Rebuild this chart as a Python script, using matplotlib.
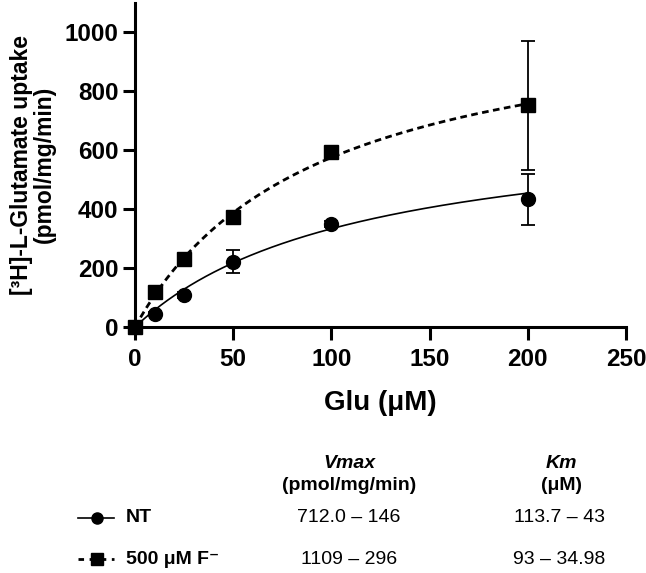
import numpy as np
import matplotlib.pyplot as plt
from matplotlib.lines import Line2D

plt.rcParams['font.family'] = ['Liberation Sans', 'DejaVu Sans']

# data
glu = [0, 10, 25, 50, 100, 200]
nt_uptake = [0, 45, 110, 222, 350, 433]
nt_err = [0, 6, 10, 38, 10, 87]
f_uptake = [0, 120, 230, 372, 594, 751]
f_err = [0, 10, 12, 14, 12, 220]

# Michaelis-Menten fit parameters (from the table)
nt_vmax, nt_km = 712.0, 113.7
f_vmax, f_km = 1109.0, 93.0

col_headers = ["Vmax", "Km"]
col_units = ["(pmol/mg/min)", "(μM)"]
row_labels = ["NT", "500 μM F⁻"]
vmax_txt = ["712.0 – 146", "1109 – 296"]
km_txt = ["113.7 – 43", "93 – 34.98"]

W, H = 646, 573
fig = plt.figure(figsize=(W / 100, H / 100), dpi=100)


def px(x, y):
    return x / W, 1 - y / H


l, b = px(135, 327)
r, t = px(626, 2.5)
ax = fig.add_axes([l, b, r - l, t - b])

xs = np.linspace(0, 200, 300)
ax.plot(xs, nt_vmax * xs / (nt_km + xs), color='black', lw=1.2, zorder=2)
ax.plot(xs, f_vmax * xs / (f_km + xs), color='black', lw=2.0,
        dashes=(2.4, 1.6), zorder=2)

ax.errorbar(glu, nt_uptake, yerr=nt_err, fmt='o', color='black', ms=10,
            elinewidth=1.3, capsize=5, capthick=1.3, clip_on=False, zorder=3)
ax.errorbar(glu, f_uptake, yerr=f_err, fmt='s', color='black', ms=9.5,
            elinewidth=1.3, capsize=5, capthick=1.3, clip_on=False, zorder=3)

ax.set_xlim(0, 250)
ax.set_ylim(0, 1100)
ax.set_xticks([0, 50, 100, 150, 200, 250])
ax.set_yticks([0, 200, 400, 600, 800, 1000])
for s in ['top', 'right']:
    ax.spines[s].set_visible(False)
for s in ['left', 'bottom']:
    ax.spines[s].set_linewidth(2.2)
ax.tick_params(width=2.2, length=9, labelsize=17.5)
ax.tick_params(axis='x', pad=6)
ax.tick_params(axis='y', pad=3)
for lab in ax.get_xticklabels() + ax.get_yticklabels():
    lab.set_fontweight('bold')

ax.set_xlabel("Glu (μM)", fontsize=20, fontweight='bold', labelpad=14)
ax.set_ylabel("[³H]-L-Glutamate uptake\n(pmol/mg/min)", fontsize=16.5,
              fontweight='bold', labelpad=6, linespacing=1.0)

# kinetic parameter table under the plot
for x, head, unit in zip([349, 561], col_headers, col_units):
    fig.text(*px(x, 463), head, ha='center', va='center', fontsize=14,
             fontweight='bold', style='italic')
    fig.text(*px(x, 485), unit, ha='center', va='center', fontsize=14,
             fontweight='bold')

row_y = [518, 559]
styles = [dict(marker='o', ls='-', lw=1.2, ms=8),
          dict(marker='s', ls=(0, (2.0, 2.0)), lw=2.0, ms=8)]
for y, name, v, k, st in zip(row_y, row_labels, vmax_txt, km_txt, styles):
    fig.add_artist(Line2D([78 / W, 114 / W], [1 - y / H, 1 - y / H],
                          color='black', ls=st['ls'], lw=st['lw']))
    fig.add_artist(Line2D([97 / W], [1 - y / H], color='black', ls='none',
                          marker=st['marker'], ms=st['ms']))
    fig.text(*px(126, y), name, ha='left', va='center', fontsize=14,
             fontweight='bold')
    fig.text(*px(349, y), v, ha='center', va='center', fontsize=14)
    fig.text(*px(559, y), k, ha='center', va='center', fontsize=14)

fig.savefig("out.png", dpi=100)
